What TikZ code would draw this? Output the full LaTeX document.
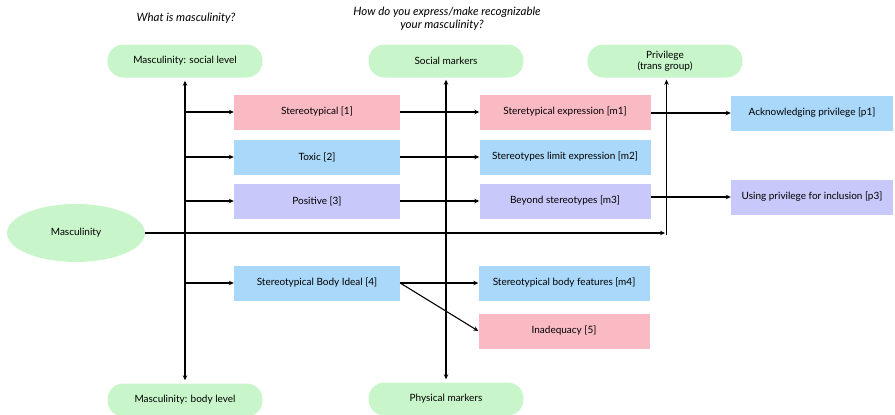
\documentclass[tikz,border=0pt]{standalone}
\usepackage{fontspec}
\setmainfont{Lato}
\usetikzlibrary{arrows.meta,shapes.geometric}
\definecolor{pgreen}{RGB}{200,245,202}
\definecolor{ppink}{RGB}{250,186,196}
\definecolor{pblue}{RGB}{170,216,250}
\definecolor{plav}{RGB}{200,200,250}
\tikzset{
  txt/.style={font=\fontsize{10}{11.5}\selectfont},
  pill/.style={txt,fill=pgreen,rounded corners=16pt,minimum width=155pt,minimum height=33pt,align=center,inner sep=0pt},
  box/.style={txt,minimum width=166pt,minimum height=35pt,inner sep=0pt},
  wide/.style={box,minimum width=171pt},
  pbox/.style={box,minimum width=162pt},
  conn/.style={line width=1.1pt,-{Stealth[length=5pt,width=4.5pt]}},
  dconn/.style={line width=1.1pt,{Stealth[length=5pt,width=4.5pt]}-{Stealth[length=5pt,width=4.5pt]}},
  question/.style={font=\itshape\fontsize{11.5}{13}\selectfont,align=center}
}
\begin{document}
\begin{tikzpicture}[x=1pt,y=-1pt]
\useasboundingbox (0,0) rectangle (895,415);
\node[question] (q1) at (186,18) {What is masculinity?};
\node[question] (q2) at (447,19) {How do you express/make recognizable\\\hspace*{-10pt}your masculinity?};

\node[pill] (social) at (185,61) {Masculinity: social level};
\node[pill] (smark) at (446,61) {Social markers};
\node[pill] (priv) at (665,61) {Privilege\\(trans group)};
\node[pill] (body) at (185,400) {Masculinity: body level};
\node[pill] (pmark) at (446,399) {Physical markers};

\node[ellipse,txt,fill=pgreen,minimum width=138pt,minimum height=58pt,inner sep=0pt] (masc) at (76,233) {Masculinity};

\node[box,fill=ppink] (s1) at (317,112) {Stereotypical [1]};
\node[box,fill=pblue] (s2) at (317,157) {Toxic [2]};
\node[box,fill=plav] (s3) at (317,201) {Positive [3]};
\node[box,fill=pblue] (s4) at (317,283) {Stereotypical Body Ideal [4]};

\node[wide,fill=ppink] (m1) at (565,112) {Steretypical expression [m1]};
\node[wide,fill=pblue] (m2) at (565,157) {Stereotypes limit expression [m2]};
\node[wide,fill=plav] (m3) at (565,201) {Beyond stereotypes [m3]};
\node[wide,fill=pblue] (m4) at (564,283) {Stereotypical body features [m4]};
\node[wide,fill=ppink] (i5) at (564,331) {Inadequacy [5]};

\node[pbox,fill=pblue] (p1) at (812,113) {Acknowledging privilege [p1]};
\node[pbox,fill=plav] (p3) at (812,197) {Using privilege for inclusion [p3]};

\draw[dconn] ([yshift=-3pt]social.south) -- ([yshift=3pt]body.north);
\draw[dconn] ([yshift=-2pt]smark.south) -- ([yshift=3pt]pmark.north);

\foreach \b in {s1,s2,s3,s4}{
  \draw[conn] (social.south |- \b.west) -- (\b.west);
}
\draw[conn] (s1) -- (m1);
\draw[conn] (s2) -- (m2);
\draw[conn] (s3) -- (m3);
\draw[conn] (s4) -- (m4);
\draw[conn] (s4.east) -- (i5.west);
\draw[conn] (m1.east |- p1.west) -- (p1.west);
\draw[conn] (m3.east |- p3.west) -- (p3.west);

\coordinate (mend) at (masc.east -| priv.south);
\draw[conn] (masc.east) -- (mend);
\draw[conn] ([xshift=1.5pt,yshift=-2pt]mend) -- ([xshift=1.5pt,yshift=-2pt]priv.south);
\end{tikzpicture}
\end{document}
